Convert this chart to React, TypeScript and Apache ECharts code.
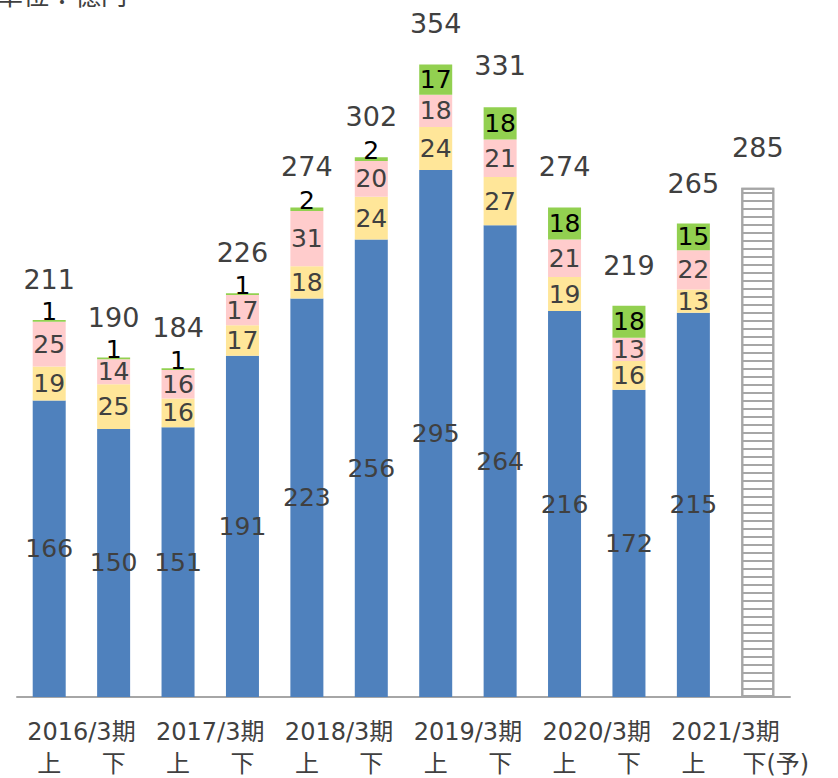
import React, { useEffect, useRef } from "react";
import * as echarts from "echarts";

const halves = ["上", "下", "上", "下", "上", "下", "上", "下", "上", "下", "上", "下(予)"];
const years = ["2016/3期", "2017/3期", "2018/3期", "2019/3期", "2020/3期", "2021/3期"];
const blue = [166, 150, 151, 191, 223, 256, 295, 264, 216, 172, 215, null];
const yellow = [19, 25, 16, 17, 18, 24, 24, 27, 19, 16, 13, null];
const pink = [25, 14, 16, 17, 31, 20, 18, 21, 21, 13, 22, null];
const green = [1, 1, 1, 1, 2, 2, 17, 18, 18, 18, 15, null];
const forecast = [null, null, null, null, null, null, null, null, null, null, null, 285];
const totals = [211, 190, 184, 226, 274, 302, 354, 331, 274, 219, 265, 285];

const FONT = "'DejaVu Sans', 'Noto Sans CJK JP', sans-serif";

export default function App() {
  const ref = useRef<HTMLDivElement>(null);
  useEffect(() => {
    document.body.style.margin = "0";
    const chart = echarts.init(ref.current!, null, { renderer: "svg" });
    const segLabel = (color: string) => ({
      show: true,
      position: "inside",
      color,
      fontSize: 25,
      fontFamily: FONT,
    });
    const seg = (name: string, data: (number | null)[], color: string, labelColor: string) => ({
      name,
      type: "bar",
      stack: "a",
      barWidth: 33,
      data: data.map((v) =>
        v !== null && v < 5
          ? { value: v, label: { offset: [0, -9] } }
          : v
      ),
      itemStyle: { color },
      label: segLabel(labelColor),
    });
    chart.setOption({
      animation: false,
      textStyle: { fontFamily: FONT },
      grid: { left: 17, right: 48, top: 18, bottom: 81 },
      xAxis: [
        {
          type: "category",
          data: halves,
          axisLine: { lineStyle: { color: "#A6A6A6", width: 2 } },
          axisTick: { show: false },
          axisLabel: {
            interval: 0,
            margin: 55,
            color: "#404040",
            fontSize: 24,
            fontFamily: FONT,
            formatter: (v: string) => (v === "下(予)" ? "{s|}" + v : v),
            rich: { s: { width: 36 } },
          },
        },
        {
          type: "category",
          data: years,
          position: "bottom",
          axisLine: { show: false },
          axisTick: { show: false },
          axisLabel: {
            interval: 0,
            margin: 23,
            color: "#404040",
            fontSize: 24,
            fontFamily: FONT,
          },
        },
      ],
      yAxis: { type: "value", min: 0, max: 380, show: false },
      series: [
        seg("blue", blue, "#4F81BD", "#404040"),
        seg("yellow", yellow, "#FFE699", "#404040"),
        seg("pink", pink, "#FFCCCC", "#404040"),
        seg("green", green, "#92D050", "#000000"),
        {
          name: "forecast",
          type: "bar",
          stack: "a",
          barWidth: 33,
          data: forecast,
          itemStyle: {
            color: "#ffffff",
            borderColor: "#A6A6A6",
            borderWidth: 2,
            decal: {
              symbol: "rect",
              symbolSize: 1,
              dashArrayX: [1, 0],
              dashArrayY: [2, 6],
              color: "#A6A6A6",
              backgroundColor: "#ffffff",
            },
          },
        },
        {
          name: "total",
          type: "line",
          data: totals,
          symbol: "circle",
          symbolSize: 2,
          showSymbol: true,
          itemStyle: { color: "rgba(0,0,0,0)" },
          lineStyle: { opacity: 0 },
          label: {
            show: true,
            position: "top",
            distance: 26,
            color: "#404040",
            fontSize: 27,
            fontFamily: FONT,
          },
        },
      ],
      graphic: [
        {
          type: "text",
          left: -3,
          top: -17,
          style: { text: "単位：億円", fontSize: 26, fill: "#404040", fontFamily: FONT },
        },
      ],
    });
    return () => chart.dispose();
  }, []);
  return <div ref={ref} style={{ width: 838, height: 778 }} />;
}
